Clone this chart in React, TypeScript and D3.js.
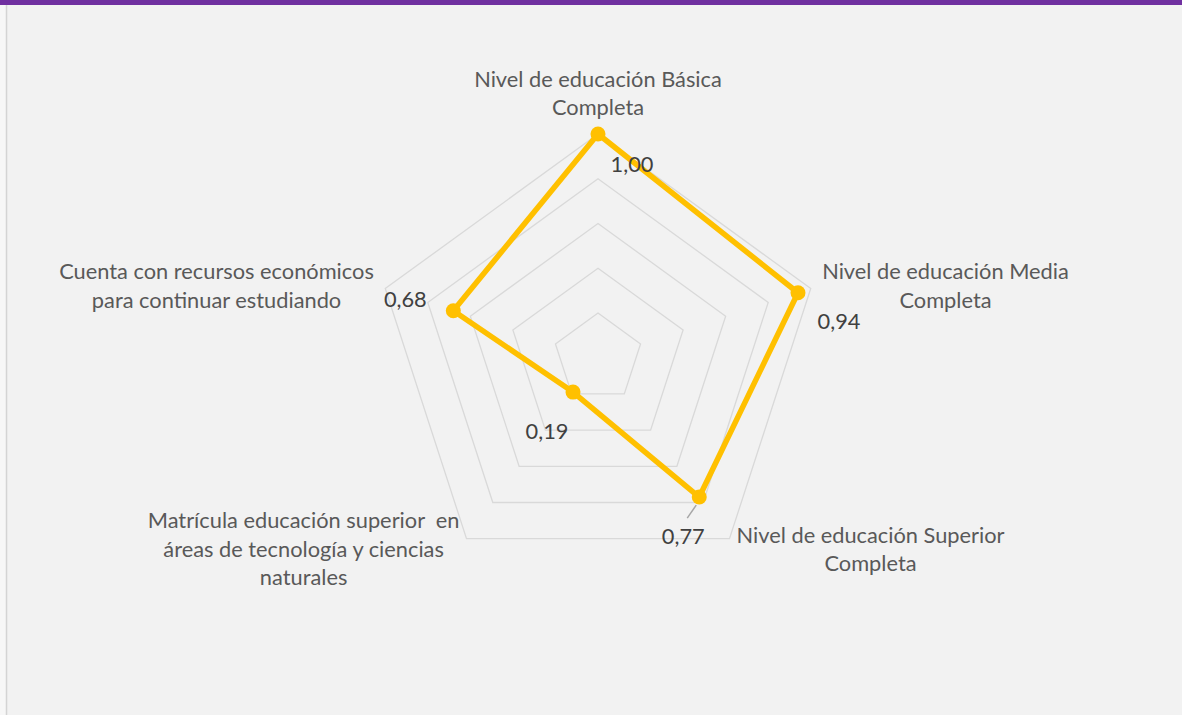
import React, { useEffect, useRef } from "react";
import * as d3 from "d3";

const categories: string[][] = [
  ["Nivel de educación Básica", "Completa"],
  ["Nivel de educación Media", "Completa"],
  ["Nivel de educación Superior", "Completa"],
  ["Matrícula educación superior  en", "áreas de tecnología y ciencias", "naturales"],
  ["Cuenta con recursos económicos", "para continuar estudiando"],
];
const values: number[] = [1.0, 0.94, 0.77, 0.19, 0.68];
const valueLabels: string[] = ["1,00", "0,94", "0,77", "0,19", "0,68"];
const gridTicks: number[] = [0.2, 0.4, 0.6, 0.8, 1.0];

// label offsets (layout), relative to each point
const labelOffsets: [number, number][] = [
  [34, 38],
  [41, 36],
  [-16, 47],
  [-26, 47],
  [-48, -4],
];

const W = 1182;
const H = 715;
const CX = 598;
const CY = 357.7;
const R = 223.7;
const FONT = "Lato, 'Open Sans', sans-serif";
const FS = 21.8;

export default function App() {
  const ref = useRef<SVGSVGElement | null>(null);

  useEffect(() => {
    const svg = d3.select(ref.current);
    svg.selectAll("*").remove();

    svg.append("rect").attr("x", 0).attr("y", 0).attr("width", W).attr("height", H).attr("fill", "#f2f2f2");
    svg.append("rect").attr("x", 0).attr("y", 0).attr("width", 6).attr("height", H).attr("fill", "#f7f7f7");
    svg.append("line").attr("x1", 6.5).attr("x2", 6.5).attr("y1", 5).attr("y2", H).attr("stroke", "#d4d4d4").attr("stroke-width", 1.5);
    svg.append("rect").attr("x", 0).attr("y", 0).attr("width", W).attr("height", 5).attr("fill", "#7030A0");

    const n = categories.length;
    const angle = d3.scaleLinear().domain([0, n]).range([0, 2 * Math.PI]);
    const r = d3.scaleLinear().domain([0, 1]).range([0, R]);
    const pt = (i: number, v: number): [number, number] => {
      const a = angle(i);
      return [CX + r(v) * Math.sin(a), CY - r(v) * Math.cos(a)];
    };

    const g = svg.append("g");
    const lineGen = d3.line<[number, number]>().curve(d3.curveLinearClosed);

    gridTicks.forEach((t) => {
      const pts = d3.range(n).map((i) => pt(i, t));
      g.append("path").attr("d", lineGen(pts)).attr("fill", "none").attr("stroke", "#d9d9d9").attr("stroke-width", 1.3);
    });

    // category labels
    categories.forEach((lines, i) => {
      const a = angle(i);
      const sx = Math.sin(a);
      const cy = -Math.cos(a);
      const [vx, vy] = pt(i, 1);
      const ax = vx + 12 * sx;
      const ay = vy + 12 * cy;
      const lab = svg.append("g");
      const lh = 28.5;
      lines.forEach((ln, k) => {
        lab.append("text")
          .attr("x", 0)
          .attr("y", k * lh)
          .attr("text-anchor", "middle")
          .attr("font-family", FONT)
          .attr("font-size", FS)
          .attr("fill", "#595959")
          .style("white-space", "pre")
          .text(ln);
      });
      const bb = (lab.node() as SVGGElement).getBBox();
      let tx = ax;
      let ty = ay;
      if (Math.abs(sx) < 0.1) {
        tx = ax - (bb.x + bb.width / 2);
        ty = ay - (bb.y + bb.height) - 2;
      } else {
        tx = sx > 0 ? ax - bb.x : ax - (bb.x + bb.width);
        ty = ay - (bb.y + bb.height / 2);
      }
      lab.attr("transform", `translate(${tx},${ty})`);
    });

    // series
    const dataPts = values.map((v, i) => pt(i, v));
    svg.append("path").attr("d", lineGen(dataPts)).attr("fill", "none").attr("stroke", "#FFC000").attr("stroke-width", 5.5).attr("stroke-linejoin", "round");
    svg.selectAll("circle.m").data(dataPts).enter().append("circle").attr("class", "m")
      .attr("cx", (d) => d[0]).attr("cy", (d) => d[1]).attr("r", 7.5).attr("fill", "#FFC000");

    // leader line for third label
    const p2 = dataPts[2];
    svg.append("line").attr("x1", p2[0] - 3).attr("y1", p2[1] + 8).attr("x2", p2[0] - 12).attr("y2", p2[1] + 21)
      .attr("stroke", "#a6a6a6").attr("stroke-width", 1.5);

    values.forEach((v, i) => {
      const [x, y] = dataPts[i];
      svg.append("text")
        .attr("x", x + labelOffsets[i][0])
        .attr("y", y + labelOffsets[i][1])
        .attr("text-anchor", "middle")
        .attr("font-family", FONT)
        .attr("font-size", FS)
        .attr("fill", "#404040")
        .text(valueLabels[i]);
    });
  }, []);

  return (
    <svg ref={ref} width={W} height={H} style={{ position: "absolute", left: 0, top: 0 }} />
  );
}
